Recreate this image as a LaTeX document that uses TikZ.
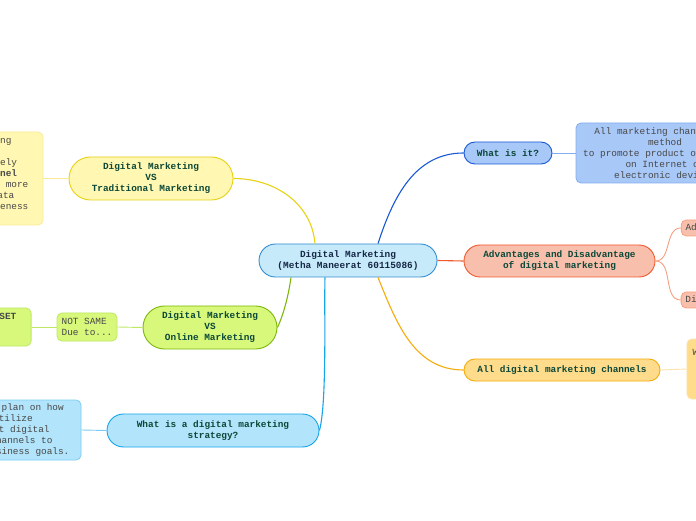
\documentclass[tikz,border=0pt]{standalone}
\usepackage{fontspec}
\setmainfont{Liberation Mono}
\usetikzlibrary{positioning, shapes.misc, calc}

% colours of the map
\definecolor{hubfill}{RGB}{198,234,250}
\definecolor{hubline}{RGB}{52,142,210}
\definecolor{hubtext}{RGB}{22,40,70}
\definecolor{toptext}{RGB}{12,72,56}
\definecolor{leaftext}{RGB}{72,72,72}
\definecolor{whatline}{RGB}{24,88,214}
\definecolor{whatfill}{RGB}{168,200,248}
\definecolor{whatleaf}{RGB}{132,172,240}
\definecolor{advline}{RGB}{240,88,46}
\definecolor{advfill}{RGB}{248,192,172}
\definecolor{advleaf}{RGB}{246,160,130}
\definecolor{chanline}{RGB}{246,172,10}
\definecolor{chanfill}{RGB}{254,220,140}
\definecolor{chanleaf}{RGB}{252,228,170}
\definecolor{tradline}{RGB}{232,210,20}
\definecolor{tradfill}{RGB}{255,247,178}
\definecolor{tradleaf}{RGB}{250,236,150}
\definecolor{onlline}{RGB}{124,184,10}
\definecolor{onlfill}{RGB}{216,248,124}
\definecolor{onlleaf}{RGB}{190,232,100}
\definecolor{stratline}{RGB}{24,164,232}
\definecolor{stratfill}{RGB}{178,229,251}
\definecolor{stratleaf}{RGB}{124,204,242}

\begin{document}
\begin{tikzpicture}[
      x=1pt, y=1pt,
      hub/.style={rounded rectangle, draw=hubline, fill=hubfill, line width=0.9pt,
        text=hubtext, font=\fontsize{9.4}{11}\selectfont\bfseries, align=center, inner sep=0pt},
      topic/.style={rounded rectangle, line width=0.9pt, text=toptext,
        font=\fontsize{9.4}{11}\selectfont\bfseries, align=center, inner sep=0pt},
      leaf/.style={rectangle, rounded corners=5pt, line width=0.8pt, text=leaftext,
        font=\fontsize{9.4}{11}\selectfont, inner sep=0pt},
      branch/.style={line width=1.1pt},
      twig/.style={line width=0.9pt}
    ]
    \useasboundingbox (0,0) rectangle (696,520);
    \clip (0,0) rectangle (696,520);
    \fill[white] (0,0) rectangle (696,520);

    \node[hub, minimum width=178, minimum height=33] (ctr) at (348,259.5)
      {Digital Marketing\\(Metha Maneerat 60115086)};

    % right side
    \node[topic, draw=whatline, fill=whatfill, minimum width=88, minimum height=22] (what) at (508,367) {What is it?};
    \node[leaf, draw=whatleaf, fill=whatfill, align=center, minimum width=178, minimum height=60] (whatbox) at (665,367)
      {All marketing channels or\\method\\to promote product or service\\on Internet or\\electronic devices};
    \node[topic, draw=advline, fill=advfill, minimum width=191, minimum height=32] (adv) at (559.5,259)
      {Advantages and Disadvantage\\of digital marketing};
    \node[leaf, draw=advleaf, fill=advfill, minimum width=65, minimum height=16] (pros) at (713.7,292) {Advantages};
    \node[leaf, draw=advleaf, fill=advfill, minimum width=82, minimum height=16] (cons) at (722.1,220) {Disadvantages};
    \node[topic, draw=chanline, fill=chanfill, minimum width=196, minimum height=22] (chan) at (562,150)
      {All digital marketing channels};
    \node[leaf, draw=chanleaf, fill=chanfill, align=center, minimum width=141, minimum height=60] (chanbox) at (757.4,151)
      {Website marketing, SEO,\\Social media,\\Content marketing\\Online Ads};

    % left side
    \node[topic, draw=tradline, fill=tradfill, minimum width=164, minimum height=43] (trad) at (151,341.5)
      {Digital Marketing\\VS\\Traditional Marketing};
    \node[leaf, draw=tradleaf, fill=tradfill, align=center, minimum width=142, minimum height=93] (tradbox) at (-28,341.5)
      {Easy targeting\\~\\Target precisely\\\textbf{the best channel}\\Reach customers more\\Measurable data\\Grow brand awareness\\~};
    \node[topic, draw=onlline, fill=onlfill, minimum width=134, minimum height=43] (online) at (210,192.5)
      {Digital Marketing\\VS\\Online Marketing};
    \node[leaf, draw=onlleaf, fill=onlfill, align=left, minimum width=60, minimum height=28] (notsame) at (87,193)
      {NOT SAME\\Due to...};
    \node[leaf, draw=onlleaf, fill=onlfill, align=left, minimum width=69, minimum height=38] (mindset) at (-3.4,193)
      {\textbf{MINDSET}\\~\\~};
    \node[topic, draw=stratline, fill=stratfill, minimum width=212, minimum height=33] (strat) at (213,89.5)
      {What is a digital marketing\\strategy?};
    \node[leaf, draw=stratleaf, fill=stratfill, align=center, minimum width=153, minimum height=60] (stratbox) at (4.5,90)
      {This is a plan on how\\to utilize\\the best digital\\media channels to\\achieve business goals.};

    % branches from the centre
    \draw[branch, tradline] ($(ctr.north)+(-33,0)$) to[out=95, in=0] (trad.east);
    \draw[branch, whatline] ($(ctr.north)+(30,0)$) to[out=72, in=180] (what.west);
    \draw[branch, advline] (ctr.east) -- (adv.west);
    \draw[branch, chanline] ($(ctr.south)+(30,0)$) to[out=-68, in=180] (chan.west);
    \draw[branch, onlline] ($(ctr.south)+(-57,0)$) to[out=-98, in=65, looseness=0.8] (online.east);
    \draw[branch, stratline] ($(ctr.south)+(-23,0)$) to[out=-92, in=75, looseness=0.5] (strat.east);

    % twigs to the notes
    \draw[twig, whatleaf] (what.east) -- (whatbox.west);
    \draw[twig, advleaf] (adv.east) to[out=0, in=180] (pros.west);
    \draw[twig, advleaf] (adv.east) to[out=0, in=180] (cons.west);
    \draw[twig, chanleaf] (chan.east) -- (chanbox.west);
    \draw[twig, tradleaf] (trad.west) -- (tradbox.east);
    \draw[twig, onlleaf] (online.west) -- (notsame.east);
    \draw[twig, onlleaf] (notsame.west) -- (mindset.east);
    \draw[twig, stratleaf] (strat.west) -- (stratbox.east);
  \end{tikzpicture}
\end{document}
